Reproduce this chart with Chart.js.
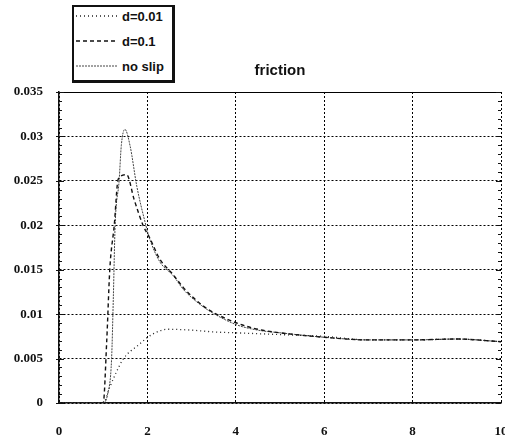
<!DOCTYPE html>
<html>
<head>
<meta charset="utf-8">
<script src="https://cdn.jsdelivr.net/npm/chart.js@4/dist/chart.umd.min.js"></script>
<style>
  html, body { margin: 0; padding: 0; background: #fff; }
  #wrap { position: relative; width: 505px; height: 442px; overflow: hidden; }
  #legend {
    position: absolute; left: 72px; top: 5px;
    width: 98px; height: 73px;
    border: 2px solid #111; border-right-width: 3px; border-bottom-width: 3px;
    background: #fff;
    font: bold 13px "Liberation Sans", Arial, sans-serif; color: #111;
  }
  .row { position: absolute; left: 2px; height: 16px; display: flex; align-items: center; }
  .row span { margin-left: 4px; }
</style>
</head>
<body>
<div id="wrap">
  <canvas id="chart" width="505" height="442"></canvas>
  <div id="legend"></div>
</div>
<script>
'use strict';

const chartTitle = 'friction';
const seriesLabels = ['d=0.01', 'd=0.1', 'no slip'];

// d=0.01
const xD001 = [0, 1, 1.15, 1.3, 1.46, 1.79, 2.1, 2.47, 3, 3.5, 4, 5, 6, 7, 8, 9, 10];
const yD001 = [0, 0, 0.0018, 0.0035, 0.005, 0.0065, 0.0077, 0.0083, 0.0082, 0.008, 0.0079, 0.0077, 0.0075, 0.0071, 0.0071, 0.0072, 0.0069];

// d=0.1
const xD01 = [0, 1, 1.08, 1.15, 1.25, 1.34, 1.53, 1.7, 1.91, 2.05, 2.28, 2.59, 2.81, 3.19, 3.49, 4.02, 4.5, 5, 6, 7, 8, 9, 10];
const yD01 = [0, 0, 0.007, 0.0151, 0.02, 0.0252, 0.0257, 0.0229, 0.0199, 0.0186, 0.0162, 0.0144, 0.013, 0.0112, 0.0102, 0.009, 0.0083, 0.0079, 0.0074, 0.0071, 0.0071, 0.0072, 0.0069];

// no slip
const xNoSlip = [0, 1, 1.1, 1.19, 1.23, 1.27, 1.36, 1.41, 1.49, 1.61, 1.76, 1.95, 2.05, 2.28, 2.59, 2.81, 3.19, 3.49, 4.02, 4.5, 5, 6, 7, 8, 9, 10];
const yNoSlip = [0, 0, 0.001, 0.005, 0.012, 0.02, 0.025, 0.029, 0.0308, 0.0289, 0.0244, 0.0203, 0.0185, 0.0159, 0.0143, 0.0128, 0.0111, 0.0101, 0.0088, 0.0082, 0.0079, 0.0074, 0.0071, 0.0071, 0.0072, 0.0069];

const xTicks = [0, 2, 4, 6, 8, 10];
const yTicks = [0, 0.005, 0.01, 0.015, 0.02, 0.025, 0.03, 0.035];

const lineDashes = [[1, 3], [4, 3], [2, 1]];
const lineColors = ['#222', '#111', '#444'];
const lineWidths = [1.3, 1.4, 1];

function toPoints(xs, ys) {
    return xs.map((x, i) => ({ x: x, y: ys[i] }));
}

const seriesData = [toPoints(xD001, yD001), toPoints(xD01, yD01), toPoints(xNoSlip, yNoSlip)];

// legend box (top left, above the plot)
const legend = document.getElementById('legend');
seriesLabels.forEach((label, i) => {
    const row = document.createElement('div');
    row.className = 'row';
    row.style.top = (1 + i * 25) + 'px';
    const svgNS = 'http://www.w3.org/2000/svg';
    const svg = document.createElementNS(svgNS, 'svg');
    svg.setAttribute('width', '42');
    svg.setAttribute('height', '4');
    const ln = document.createElementNS(svgNS, 'line');
    ln.setAttribute('x1', '0'); ln.setAttribute('y1', '2');
    ln.setAttribute('x2', '42'); ln.setAttribute('y2', '2');
    ln.setAttribute('stroke', lineColors[i]);
    ln.setAttribute('stroke-width', lineWidths[i]);
    ln.setAttribute('stroke-dasharray', lineDashes[i].join(' '));
    svg.appendChild(ln);
    const txt = document.createElement('span');
    txt.innerText = label;
    row.appendChild(svg);
    row.appendChild(txt);
    legend.appendChild(row);
});

function isMajor(v) {
    return yTicks.some((t) => Math.abs(t - v) < 1e-9);
}

// small inner tick marks on left and right frame, every 0.001
const minorTicks = {
    id: 'minorTicks',
    afterDraw(chart) {
        const ctx = chart.ctx;
        const y = chart.scales.y;
        const area = chart.chartArea;
        ctx.save();
        ctx.strokeStyle = '#111';
        ctx.lineWidth = 1;
        for (let i = 0; i <= 35; i++) {
            const v = i / 1000;
            const py = Math.round(y.getPixelForValue(v)) + 0.5;
            const len = isMajor(v) ? 5 : 3;
            ctx.beginPath();
            ctx.moveTo(area.left - (isMajor(v) ? 3 : 0), py);
            ctx.lineTo(area.left + len, py);
            ctx.moveTo(area.right - len, py);
            ctx.lineTo(area.right, py);
            ctx.stroke();
        }
        ctx.restore();
    }
};

const ctx = document.getElementById('chart').getContext('2d');
const chart = new Chart(ctx, {
    type: 'scatter',
    data: {
        datasets: seriesLabels.map((label, i) => ({
            label: label,
            data: seriesData[i],
            showLine: true,
            borderColor: lineColors[i],
            borderWidth: lineWidths[i],
            borderDash: lineDashes[i],
            pointRadius: 0,
            fill: false,
            cubicInterpolationMode: 'monotone'
        }))
    },
    options: {
        responsive: false,
        animation: false,
        layout: { padding: { right: 4 } },
        plugins: {
            legend: { display: false },
            tooltip: { enabled: false },
            title: {
                display: true,
                text: chartTitle,
                fullSize: false,
                color: '#111',
                font: { family: '"Liberation Sans", Arial, sans-serif', size: 15, weight: 'bold' },
                padding: { top: 62, bottom: 12 }
            }
        },
        scales: {
            x: {
                type: 'linear',
                min: 0,
                max: 10,
                afterBuildTicks: (axis) => { axis.ticks = xTicks.map((v) => ({ value: v })); },
                afterFit: (axis) => { axis.height = 39; axis.paddingRight = 0; axis.paddingLeft = 0; },
                grid: { color: '#000', lineWidth: 1, drawTicks: false },
                border: { display: true, color: '#111', width: 1.5, dash: [2, 2] },
                ticks: {
                    color: '#111',
                    padding: 21,
                    font: { family: '"Liberation Serif", "Times New Roman", serif', size: 13, weight: 'bold' }
                }
            },
            y: {
                type: 'linear',
                min: 0,
                max: 0.035,
                afterBuildTicks: (axis) => { axis.ticks = yTicks.map((v) => ({ value: v })); },
                afterFit: (axis) => { axis.width = 59; axis.paddingTop = 0; axis.paddingBottom = 0; },
                grid: { color: '#000', lineWidth: 1, drawTicks: false },
                border: {
                    display: true, color: '#111', width: 1.5,
                    dash: (c) => (c.tick && c.tick.value >= 0.035 - 1e-9) ? [] : [2, 2]
                },
                ticks: {
                    color: '#111',
                    padding: 16,
                    callback: (v) => String(+Number(v).toFixed(3)),
                    font: { family: '"Liberation Serif", "Times New Roman", serif', size: 13, weight: 'bold' }
                }
            }
        }
    },
    plugins: [minorTicks]
});
</script>
</body>
</html>
